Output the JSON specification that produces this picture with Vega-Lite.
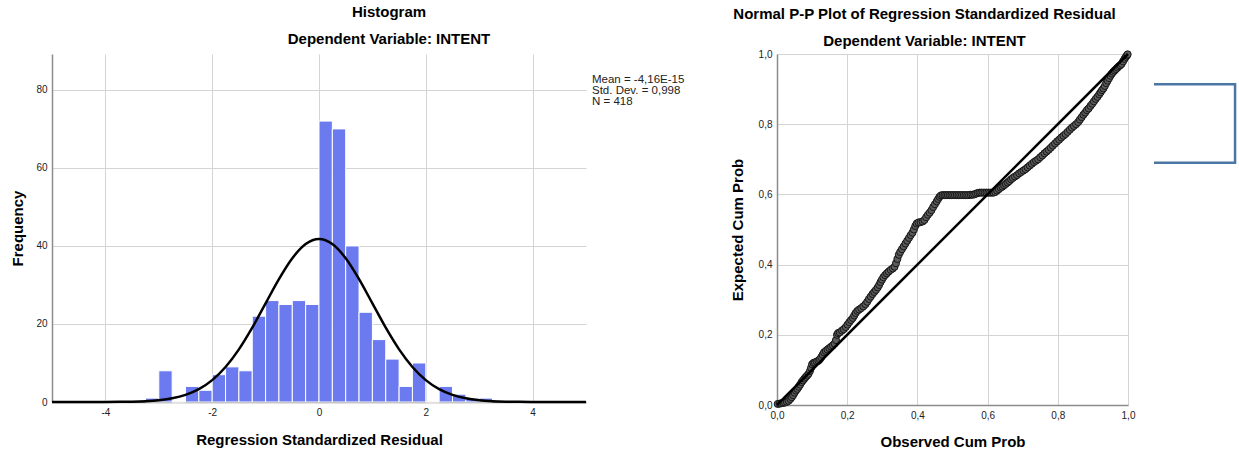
{
  "$schema": "https://vega.github.io/schema/vega-lite/v6.json",
  "background": "white",
  "padding": {"left": 10, "top": 5, "right": 0, "bottom": 0},
  "config": {
    "font": "Liberation Sans",
    "view": {"stroke": null},
    "axis": {
      "labelFont": "Liberation Sans", "labelFontSize": 10, "labelColor": "#222",
      "titleFont": "Liberation Sans", "titleFontSize": 15, "titleFontWeight": "bold", "titleColor": "#000",
      "grid": true, "gridColor": "#d4d4d4", "gridWidth": 1,
      "ticks": false, "labelPadding": 5, "labelFlush": false,
      "domainColor": "#8c8c8c", "domainWidth": 1.5
    },
    "title": {
      "font": "Liberation Sans", "fontSize": 15, "fontWeight": "bold", "color": "#000",
      "subtitleFont": "Liberation Sans", "subtitleFontSize": 15, "subtitleFontWeight": "bold", "subtitleColor": "#000",
      "subtitlePadding": 12, "anchor": "middle"
    },
    "concat": {"spacing": 45}
  },
  "datasets": {
    "bins": [
      {"lo": -3.25, "hi": -3.0, "count": 1},
      {"lo": -3.0, "hi": -2.75, "count": 8},
      {"lo": -2.75, "hi": -2.5, "count": 0},
      {"lo": -2.5, "hi": -2.25, "count": 4},
      {"lo": -2.25, "hi": -2.0, "count": 3},
      {"lo": -2.0, "hi": -1.75, "count": 7},
      {"lo": -1.75, "hi": -1.5, "count": 9},
      {"lo": -1.5, "hi": -1.25, "count": 8},
      {"lo": -1.25, "hi": -1.0, "count": 22},
      {"lo": -1.0, "hi": -0.75, "count": 26},
      {"lo": -0.75, "hi": -0.5, "count": 25},
      {"lo": -0.5, "hi": -0.25, "count": 26},
      {"lo": -0.25, "hi": 0.0, "count": 25},
      {"lo": 0.0, "hi": 0.25, "count": 72},
      {"lo": 0.25, "hi": 0.5, "count": 70},
      {"lo": 0.5, "hi": 0.75, "count": 40},
      {"lo": 0.75, "hi": 1.0, "count": 23},
      {"lo": 1.0, "hi": 1.25, "count": 16},
      {"lo": 1.25, "hi": 1.5, "count": 11},
      {"lo": 1.5, "hi": 1.75, "count": 4},
      {"lo": 1.75, "hi": 2.0, "count": 10},
      {"lo": 2.0, "hi": 2.25, "count": 0},
      {"lo": 2.25, "hi": 2.5, "count": 4},
      {"lo": 2.5, "hi": 2.75, "count": 2},
      {"lo": 2.75, "hi": 3.0, "count": 1},
      {"lo": 3.0, "hi": 3.25, "count": 1}
    ],
    "curve": [
      {"z": -5.0, "f": 0}, {"z": -4.5, "f": 0.002}, {"z": -4.0, "f": 0.014}, {"z": -3.75, "f": 0.036},
      {"z": -3.5, "f": 0.089}, {"z": -3.25, "f": 0.208}, {"z": -3.0, "f": 0.456}, {"z": -2.75, "f": 0.938},
      {"z": -2.5, "f": 1.81}, {"z": -2.25, "f": 3.29}, {"z": -2.0, "f": 5.61}, {"z": -1.75, "f": 8.98},
      {"z": -1.5, "f": 13.5}, {"z": -1.25, "f": 19.06}, {"z": -1.0, "f": 25.28}, {"z": -0.75, "f": 31.49},
      {"z": -0.5, "f": 36.84}, {"z": -0.25, "f": 40.48}, {"z": 0.0, "f": 41.77}, {"z": 0.25, "f": 40.48},
      {"z": 0.5, "f": 36.84}, {"z": 0.75, "f": 31.49}, {"z": 1.0, "f": 25.28}, {"z": 1.25, "f": 19.06},
      {"z": 1.5, "f": 13.5}, {"z": 1.75, "f": 8.98}, {"z": 2.0, "f": 5.61}, {"z": 2.25, "f": 3.29},
      {"z": 2.5, "f": 1.81}, {"z": 2.75, "f": 0.938}, {"z": 3.0, "f": 0.456}, {"z": 3.25, "f": 0.208},
      {"z": 3.5, "f": 0.089}, {"z": 3.75, "f": 0.036}, {"z": 4.0, "f": 0.014}, {"z": 4.5, "f": 0.002},
      {"z": 5.0, "f": 0}
    ],
    "stats": [
      {"stat": "Mean = -4,16E-15\nStd. Dev. = 0,998\nN = 418"}
    ],
    "pp": [
      {"o": 0.002, "e": 0.003}, {"o": 0.008, "e": 0.004}, {"o": 0.013, "e": 0.005}, {"o": 0.018, "e": 0.006},
      {"o": 0.023, "e": 0.007}, {"o": 0.028, "e": 0.009}, {"o": 0.033, "e": 0.012}, {"o": 0.038, "e": 0.017},
      {"o": 0.042, "e": 0.022}, {"o": 0.046, "e": 0.028}, {"o": 0.05, "e": 0.035}, {"o": 0.054, "e": 0.041},
      {"o": 0.058, "e": 0.046}, {"o": 0.062, "e": 0.052}, {"o": 0.066, "e": 0.058}, {"o": 0.07, "e": 0.065},
      {"o": 0.074, "e": 0.07}, {"o": 0.078, "e": 0.075}, {"o": 0.082, "e": 0.08}, {"o": 0.086, "e": 0.084},
      {"o": 0.09, "e": 0.089}, {"o": 0.094, "e": 0.097}, {"o": 0.097, "e": 0.106}, {"o": 0.1, "e": 0.116},
      {"o": 0.104, "e": 0.12}, {"o": 0.108, "e": 0.121}, {"o": 0.113, "e": 0.124}, {"o": 0.118, "e": 0.126},
      {"o": 0.122, "e": 0.13}, {"o": 0.126, "e": 0.136}, {"o": 0.13, "e": 0.143}, {"o": 0.134, "e": 0.15},
      {"o": 0.139, "e": 0.154}, {"o": 0.144, "e": 0.158}, {"o": 0.149, "e": 0.162}, {"o": 0.154, "e": 0.166},
      {"o": 0.159, "e": 0.17}, {"o": 0.164, "e": 0.175}, {"o": 0.168, "e": 0.185}, {"o": 0.171, "e": 0.2},
      {"o": 0.174, "e": 0.205}, {"o": 0.179, "e": 0.207}, {"o": 0.185, "e": 0.212}, {"o": 0.19, "e": 0.216},
      {"o": 0.196, "e": 0.222}, {"o": 0.201, "e": 0.229}, {"o": 0.206, "e": 0.236}, {"o": 0.211, "e": 0.242},
      {"o": 0.216, "e": 0.248}, {"o": 0.22, "e": 0.255}, {"o": 0.224, "e": 0.262}, {"o": 0.229, "e": 0.268},
      {"o": 0.234, "e": 0.272}, {"o": 0.24, "e": 0.276}, {"o": 0.246, "e": 0.281}, {"o": 0.252, "e": 0.287},
      {"o": 0.257, "e": 0.294}, {"o": 0.262, "e": 0.302}, {"o": 0.267, "e": 0.309}, {"o": 0.272, "e": 0.316},
      {"o": 0.277, "e": 0.322}, {"o": 0.282, "e": 0.328}, {"o": 0.287, "e": 0.335}, {"o": 0.291, "e": 0.342},
      {"o": 0.295, "e": 0.35}, {"o": 0.299, "e": 0.357}, {"o": 0.303, "e": 0.364}, {"o": 0.308, "e": 0.37},
      {"o": 0.313, "e": 0.375}, {"o": 0.318, "e": 0.38}, {"o": 0.324, "e": 0.385}, {"o": 0.33, "e": 0.389},
      {"o": 0.335, "e": 0.394}, {"o": 0.339, "e": 0.404}, {"o": 0.343, "e": 0.416}, {"o": 0.347, "e": 0.428},
      {"o": 0.351, "e": 0.436}, {"o": 0.356, "e": 0.444}, {"o": 0.361, "e": 0.452}, {"o": 0.366, "e": 0.46},
      {"o": 0.371, "e": 0.468}, {"o": 0.376, "e": 0.476}, {"o": 0.381, "e": 0.484}, {"o": 0.386, "e": 0.491},
      {"o": 0.39, "e": 0.5}, {"o": 0.394, "e": 0.51}, {"o": 0.398, "e": 0.517}, {"o": 0.403, "e": 0.52},
      {"o": 0.409, "e": 0.521}, {"o": 0.415, "e": 0.523}, {"o": 0.42, "e": 0.527}, {"o": 0.425, "e": 0.535},
      {"o": 0.43, "e": 0.542}, {"o": 0.435, "e": 0.548}, {"o": 0.44, "e": 0.555}, {"o": 0.445, "e": 0.564},
      {"o": 0.45, "e": 0.572}, {"o": 0.455, "e": 0.58}, {"o": 0.459, "e": 0.587}, {"o": 0.463, "e": 0.593},
      {"o": 0.467, "e": 0.597}, {"o": 0.472, "e": 0.598}, {"o": 0.477, "e": 0.598}, {"o": 0.482, "e": 0.598},
      {"o": 0.487, "e": 0.598}, {"o": 0.492, "e": 0.598}, {"o": 0.497, "e": 0.598}, {"o": 0.502, "e": 0.598},
      {"o": 0.507, "e": 0.598}, {"o": 0.512, "e": 0.598}, {"o": 0.517, "e": 0.598}, {"o": 0.522, "e": 0.598},
      {"o": 0.527, "e": 0.598}, {"o": 0.532, "e": 0.598}, {"o": 0.537, "e": 0.598}, {"o": 0.542, "e": 0.598},
      {"o": 0.547, "e": 0.598}, {"o": 0.552, "e": 0.599}, {"o": 0.557, "e": 0.599}, {"o": 0.562, "e": 0.6},
      {"o": 0.567, "e": 0.602}, {"o": 0.572, "e": 0.604}, {"o": 0.577, "e": 0.605}, {"o": 0.582, "e": 0.605},
      {"o": 0.587, "e": 0.605}, {"o": 0.592, "e": 0.605}, {"o": 0.597, "e": 0.605}, {"o": 0.602, "e": 0.605},
      {"o": 0.607, "e": 0.605}, {"o": 0.612, "e": 0.605}, {"o": 0.617, "e": 0.605}, {"o": 0.622, "e": 0.607},
      {"o": 0.627, "e": 0.611}, {"o": 0.632, "e": 0.615}, {"o": 0.637, "e": 0.619}, {"o": 0.642, "e": 0.622},
      {"o": 0.647, "e": 0.626}, {"o": 0.652, "e": 0.63}, {"o": 0.657, "e": 0.634}, {"o": 0.662, "e": 0.638},
      {"o": 0.667, "e": 0.643}, {"o": 0.672, "e": 0.647}, {"o": 0.678, "e": 0.651}, {"o": 0.684, "e": 0.655},
      {"o": 0.69, "e": 0.66}, {"o": 0.696, "e": 0.664}, {"o": 0.702, "e": 0.668}, {"o": 0.708, "e": 0.672},
      {"o": 0.714, "e": 0.677}, {"o": 0.72, "e": 0.682}, {"o": 0.726, "e": 0.687}, {"o": 0.732, "e": 0.692},
      {"o": 0.738, "e": 0.696}, {"o": 0.744, "e": 0.7}, {"o": 0.75, "e": 0.706}, {"o": 0.756, "e": 0.711},
      {"o": 0.762, "e": 0.717}, {"o": 0.768, "e": 0.722}, {"o": 0.774, "e": 0.727}, {"o": 0.78, "e": 0.733},
      {"o": 0.786, "e": 0.739}, {"o": 0.792, "e": 0.745}, {"o": 0.798, "e": 0.751}, {"o": 0.804, "e": 0.756},
      {"o": 0.81, "e": 0.762}, {"o": 0.816, "e": 0.767}, {"o": 0.822, "e": 0.772}, {"o": 0.828, "e": 0.778},
      {"o": 0.834, "e": 0.784}, {"o": 0.84, "e": 0.79}, {"o": 0.846, "e": 0.795}, {"o": 0.852, "e": 0.8},
      {"o": 0.858, "e": 0.806}, {"o": 0.863, "e": 0.813}, {"o": 0.868, "e": 0.82}, {"o": 0.873, "e": 0.827},
      {"o": 0.878, "e": 0.833}, {"o": 0.883, "e": 0.84}, {"o": 0.888, "e": 0.845}, {"o": 0.893, "e": 0.852},
      {"o": 0.898, "e": 0.858}, {"o": 0.903, "e": 0.865}, {"o": 0.908, "e": 0.872}, {"o": 0.913, "e": 0.878},
      {"o": 0.918, "e": 0.885}, {"o": 0.922, "e": 0.891}, {"o": 0.926, "e": 0.897}, {"o": 0.93, "e": 0.902},
      {"o": 0.934, "e": 0.909}, {"o": 0.938, "e": 0.917}, {"o": 0.942, "e": 0.924}, {"o": 0.946, "e": 0.931},
      {"o": 0.95, "e": 0.938}, {"o": 0.954, "e": 0.944}, {"o": 0.958, "e": 0.949}, {"o": 0.962, "e": 0.953},
      {"o": 0.966, "e": 0.957}, {"o": 0.97, "e": 0.961}, {"o": 0.974, "e": 0.965}, {"o": 0.978, "e": 0.968},
      {"o": 0.982, "e": 0.972}, {"o": 0.986, "e": 0.979}, {"o": 0.99, "e": 0.986}, {"o": 0.994, "e": 0.992},
      {"o": 0.997, "e": 0.996}, {"o": 0.999, "e": 0.999}
    ],
    "diag": [
      {"o": 0, "e": 0}, {"o": 1, "e": 1}
    ],
    "bracket": [
      {"k": 0, "bx": 1.074, "by": 0.9137},
      {"k": 1, "bx": 1.305, "by": 0.9137},
      {"k": 2, "bx": 1.305, "by": 0.69},
      {"k": 3, "bx": 1.074, "by": 0.69}
    ]
  },
  "hconcat": [
    {
      "width": 534,
      "height": 348,
      "title": {"text": "Histogram", "subtitle": "Dependent Variable: INTENT", "dx": 70, "offset": 7},
      "layer": [
        {
          "data": {"name": "bins"},
          "mark": {"type": "bar", "color": "#6b7bef", "stroke": "white", "strokeWidth": 1},
          "encoding": {
            "x": {
              "field": "lo", "type": "quantitative",
              "scale": {"domain": [-5, 5], "nice": false, "zero": false},
              "axis": {"values": [-4, -2, 0, 2, 4], "labelExpr": "datum.value + ''", "title": "Regression Standardized Residual", "titlePadding": 15}
            },
            "x2": {"field": "hi"},
            "y": {
              "field": "count", "type": "quantitative",
              "scale": {"domain": [0, 89.2], "nice": false},
              "axis": {"values": [0, 20, 40, 60, 80], "title": "Frequency", "titlePadding": 10}
            },
            "y2": {"datum": 0}
          }
        },
        {
          "data": {"name": "curve"},
          "mark": {"type": "line", "color": "black", "strokeWidth": 2.5, "interpolate": "monotone"},
          "encoding": {
            "x": {"field": "z", "type": "quantitative"},
            "y": {"field": "f", "type": "quantitative"}
          }
        },
        {
          "data": {"name": "stats"},
          "mark": {"type": "text", "align": "left", "baseline": "middle", "dx": 6, "fontSize": 11.5, "lineBreak": "\n", "lineHeight": 11, "color": "#222"},
          "encoding": {
            "x": {"datum": 5},
            "y": {"datum": 82.5},
            "text": {"field": "stat"}
          }
        }
      ]
    },
    {
      "width": 351,
      "height": 351,
      "title": {"text": "Normal P-P Plot of Regression Standardized Residual", "subtitle": "Dependent Variable: INTENT", "dx": -28, "offset": 0},
      "layer": [
        {
          "data": {"name": "pp"},
          "mark": {"type": "point", "shape": "circle", "filled": true, "size": 50, "fill": "#5c5c5c", "stroke": "#151515", "strokeWidth": 1, "opacity": 1},
          "encoding": {
            "x": {
              "field": "o", "type": "quantitative",
              "scale": {"domain": [0, 1], "nice": false},
              "axis": {"values": [0, 0.2, 0.4, 0.6, 0.8, 1], "labelExpr": "replace(format(datum.value, '.1f'), '.', ',')", "title": "Observed Cum Prob", "titlePadding": 14}
            },
            "y": {
              "field": "e", "type": "quantitative",
              "scale": {"domain": [0, 1], "nice": false},
              "axis": {"values": [0, 0.2, 0.4, 0.6, 0.8, 1], "labelExpr": "replace(format(datum.value, '.1f'), '.', ',')", "title": "Expected Cum Prob", "titlePadding": 13}
            }
          }
        },
        {
          "data": {"name": "diag"},
          "mark": {"type": "line", "color": "black", "strokeWidth": 2.5},
          "encoding": {
            "x": {"field": "o", "type": "quantitative"},
            "y": {"field": "e", "type": "quantitative"}
          }
        },
        {
          "data": {"name": "bracket"},
          "mark": {"type": "line", "color": "#4a77a6", "strokeWidth": 2.5},
          "encoding": {
            "x": {"field": "bx", "type": "quantitative"},
            "y": {"field": "by", "type": "quantitative"},
            "order": {"field": "k"}
          }
        }
      ]
    }
  ]
}
